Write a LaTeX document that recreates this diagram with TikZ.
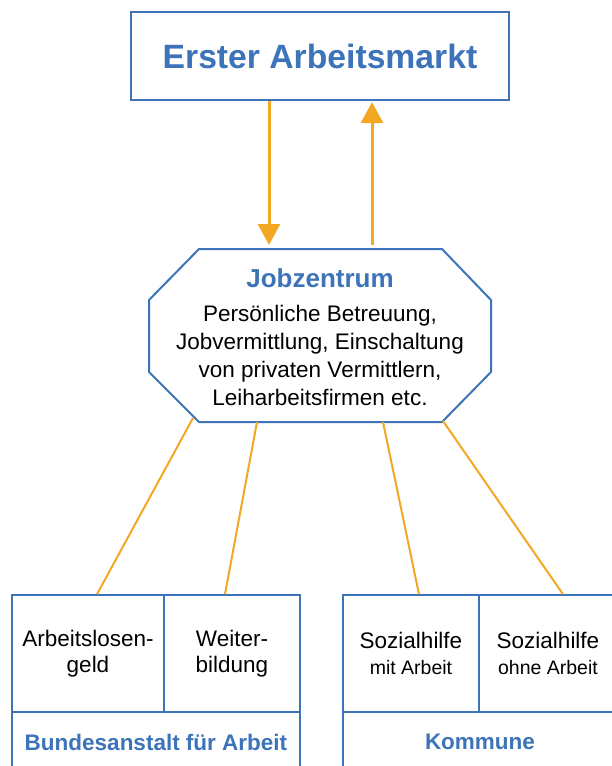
\documentclass[tikz,border=0pt]{standalone}
\usepackage{fontspec}
\setmainfont{Liberation Sans}
\usetikzlibrary{arrows.meta}
\definecolor{myblue}{RGB}{61,115,184}
\definecolor{myorange}{RGB}{243,168,36}
\begin{document}
\begin{tikzpicture}[x=1pt,y=-1pt,
  topbox/.style={draw=myblue,line width=2.2pt,inner sep=0pt,minimum width=378pt,minimum height=88pt,
    text=myblue,font=\fontsize{33.7}{40}\selectfont\bfseries},
  octline/.style={draw=myblue,line width=2pt,line join=miter},
  arr/.style={draw=myorange,line width=3pt,-{Triangle[length=21pt,width=22pt]}},
  conn/.style={draw=myorange,line width=2pt},
  cell/.style={draw=myblue,line width=1.6pt,inner sep=0pt,align=center,
    font=\fontsize{22.5}{26}\selectfont},
  orgcell/.style={cell,text=myblue,font=\fontsize{22.5}{26}\selectfont\bfseries},
  jobtext/.style={align=center,inner sep=0pt,font=\fontsize{22.5}{28.2}\selectfont}
]
\useasboundingbox (0,0) rectangle (612,766);

% top box
\node[topbox] (markt) at (320,56) {Erster Arbeitsmarkt};

% octagon
\draw[octline] (199,249) coordinate (oA) -- (442,249) -- (491,300) -- (491,372)
  -- (442,422) coordinate (oR) -- (199,422) coordinate (oL) -- (149,372) -- (149,300) -- cycle;
\node[jobtext,anchor=north] (job) at (320,268)
  {{\color{myblue}\fontsize{26}{30}\selectfont\bfseries Jobzentrum}\\[6pt]
   Persönliche Betreuung,\\
   Jobvermittlung, Einschaltung\\
   von privaten Vermittlern,\\
   Leiharbeitsfirmen etc.};
\coordinate (jt1) at (269,245);
\coordinate (jt2) at (372,245);
\coordinate (o1) at (193,418);
\coordinate (o2) at (257,422);
\coordinate (o3) at (383,422);
\coordinate (o4) at (443,421);

% arrows
\draw[arr] ([xshift=-51pt]markt.south) -- (jt1);
\draw[arr] (jt2) -- ([xshift=52pt,yshift=-1pt]markt.south);

% bottom cells
\begin{scope}
\clip (0,0) rectangle (612,766);
\node[cell,minimum width=152pt,minimum height=117pt] (alg) at (88,653.5) {Arbeitslosen-\\geld};
\node[cell,minimum width=136pt,minimum height=117pt] (wb) at (232,653.5) {Weiter-\\bildung};
\node[orgcell,minimum width=288pt,minimum height=60pt] (ba) at (156,742) {Bundesanstalt für Arbeit};
\node[cell,minimum width=136pt,minimum height=117pt] (sma) at (411,653.5)
  {Sozialhilfe\\{\fontsize{19.5}{26}\selectfont mit Arbeit}};
\node[cell,minimum width=138pt,minimum height=117pt] (soa) at (548,653.5)
  {Sozialhilfe\\{\fontsize{19.5}{26}\selectfont ohne Arbeit}};
\node[orgcell,minimum width=274pt,minimum height=60pt] (kom) at (480,742) {Kommune};
\end{scope}

% connectors
\draw[conn] (o1) -- ([xshift=9pt]alg.north);
\draw[conn] (o2) -- ([xshift=-7pt]wb.north);
\draw[conn] (o3) -- ([xshift=8pt]sma.north);
\draw[conn] (o4) -- ([xshift=15pt]soa.north);
\end{tikzpicture}
\end{document}
